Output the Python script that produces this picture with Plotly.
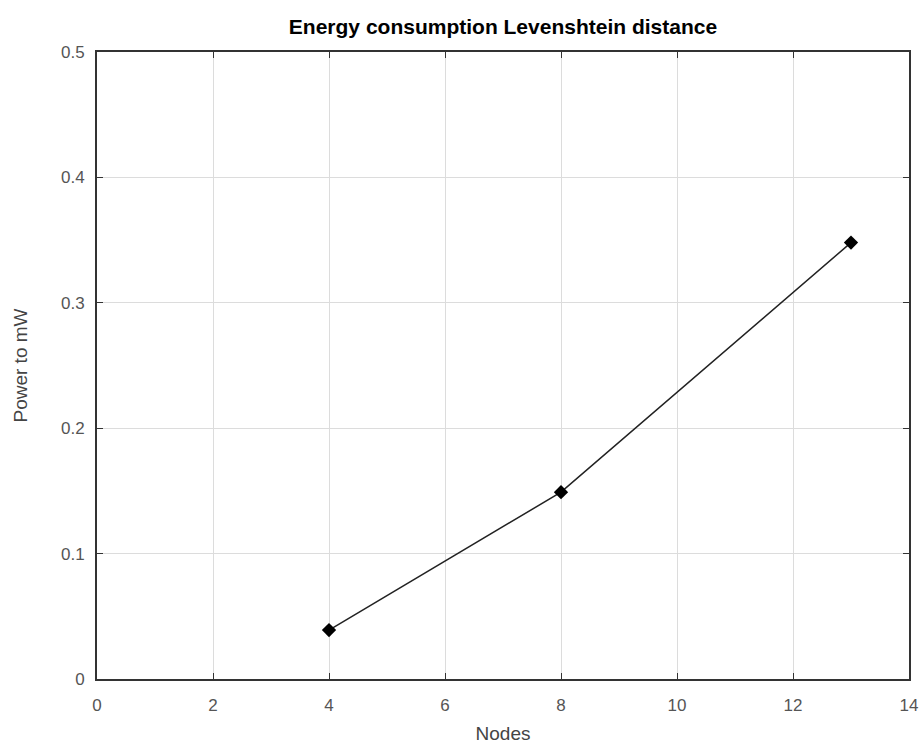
import plotly.graph_objects as go

nodes = [4, 8, 13]
power = [0.039, 0.149, 0.348]

x_ticks = [0, 2, 4, 6, 8, 10, 12, 14]
y_ticks = [0, 0.1, 0.2, 0.3, 0.4, 0.5]
y_tick_text = ["0", "0.1", "0.2", "0.3", "0.4", "0.5"]

FONT = "Liberation Sans, Arial, sans-serif"

fig = go.Figure()
fig.add_trace(go.Scatter(
    x=nodes, y=power, mode="lines+markers",
    line=dict(color="#222222", width=1.5),
    marker=dict(symbol="diamond", size=11, color="black"),
    showlegend=False,
))

axis_common = dict(
    showline=True, linecolor="#333333", linewidth=2, mirror="ticks",
    ticks="inside", ticklen=6, tickcolor="#333333", tickwidth=1,
    showgrid=True, gridcolor="#dcdcdc", gridwidth=1, zeroline=False,
    automargin=False,
    tickfont=dict(family=FONT, size=17, color="#555555"),
    title_font=dict(family=FONT, size=19, color="#444444"),
)

fig.update_xaxes(range=[0, 14], tickvals=x_ticks, title_text="Nodes",
                 title_standoff=12, ticklabelstandoff=10, **axis_common)
fig.update_yaxes(range=[0, 0.5], tickvals=y_ticks, ticktext=y_tick_text,
                 title_text="Power to mW", title_standoff=28, ticklabelstandoff=7, **axis_common)

fig.update_layout(
    width=921, height=745,
    margin=dict(l=97, r=12, t=52, b=66, autoexpand=False),
    paper_bgcolor="white", plot_bgcolor="white",
    title=dict(text="<b>Energy consumption Levenshtein distance</b>", x=0.5, xref="paper",
               xanchor="center", y=1 - 27/745, yanchor="middle",
               font=dict(family=FONT, size=21, color="black")),
)

fig.write_html("out.html")
